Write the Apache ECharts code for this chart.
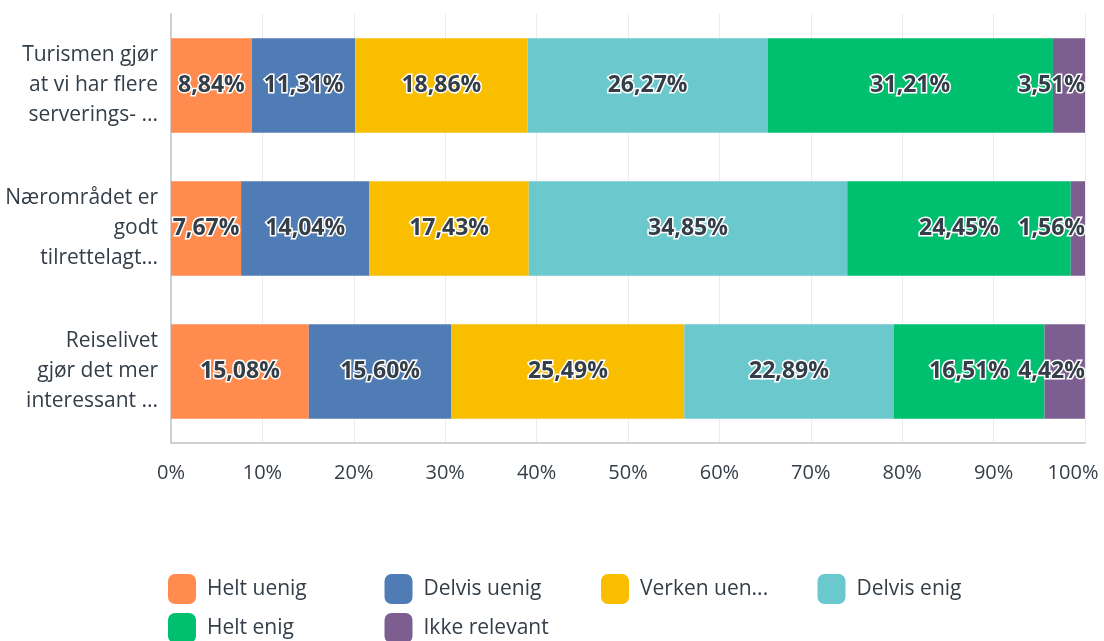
<!DOCTYPE html>
<html>
<head>
<meta charset="utf-8">
<script src="https://cdn.jsdelivr.net/npm/echarts@6/dist/echarts.min.js"></script>
<style>
  html, body { margin: 0; padding: 0; background: #fff; }
  #chart { width: 1104px; height: 641px; }
</style>
</head>
<body>
<div id="chart"></div>
<script>
const categories = [
  'Turismen gjør\nat vi har flere\nserverings- ...',
  'Nærområdet er\ngodt\ntilrettelagt...',
  'Reiselivet\ngjør det mer\ninteressant ...'
]
const seriesNames = ['Helt uenig', 'Delvis uenig', 'Verken uen...', 'Delvis enig', 'Helt enig', 'Ikke relevant']
const heltUenig = [8.84, 7.67, 15.08]
const delvisUenig = [11.31, 14.04, 15.60]
const verken = [18.86, 17.43, 25.49]
const delvisEnig = [26.27, 34.85, 22.89]
const heltEnig = [31.21, 24.45, 16.51]
const ikkeRelevant = [3.51, 1.56, 4.42]
const xTicks = [0, 10, 20, 30, 40, 50, 60, 70, 80, 90, 100]

const colors = ['#FF8B4F', '#507CB6', '#F9BE00', '#6BC8CD', '#00BF6F', '#7D5E90']
const values = [heltUenig, delvisUenig, verken, delvisEnig, heltEnig, ikkeRelevant]
const textColor = '#333e48'
const font = 'Open Sans'

const chart = echarts.init(document.getElementById('chart'))

// one legend per item so the columns line up like the original grid
const legends = seriesNames.map((name, i) => ({
  left: 163 + (i % 4) * 216.5,
  top: 569 + Math.floor(i / 4) * 39,
  itemWidth: 28,
  itemHeight: 30,
  icon: 'roundRect',
  textStyle: { color: textColor, fontSize: 21, fontFamily: font, padding: [0, 0, 0, 6] },
  data: [name],
}))

chart.setOption({
  animation: false,
  color: colors,
  grid: { left: 171, right: 19, top: 14, bottom: 198, outerBoundsMode: 'none' },
  xAxis: {
    type: 'value',
    min: xTicks[0],
    max: xTicks[xTicks.length - 1],
    interval: 10,
    axisLabel: {
      formatter: v => v === 100 ? '{m|100%}' : v + '%',
      color: textColor,
      fontSize: 20,
      fontFamily: font,
      margin: 20,
      rich: { m: { fontSize: 20, fontFamily: font, color: textColor, padding: [0, 24, 0, 0] } },
    },
    axisLine: { show: true, lineStyle: { color: '#d0d0d0', width: 2 } },
    axisTick: { show: false },
    splitLine: { lineStyle: { color: '#ebebeb', width: 1 } },
  },
  yAxis: {
    type: 'category',
    data: categories,
    inverse: true,
    axisLabel: {
      color: textColor,
      fontSize: 21,
      fontFamily: font,
      lineHeight: 30,
      align: 'right',
      margin: 13,
      padding: [4, 0, 0, 0],
    },
    axisLine: { show: true, lineStyle: { color: '#d0d0d0', width: 2 } },
    axisTick: { show: false },
  },
  legend: legends,
  series: seriesNames.map((name, i) => ({
    name,
    type: 'bar',
    stack: 'total',
    barWidth: '66%',
    data: values[i],
    label: {
      show: true,
      position: i === seriesNames.length - 1 ? 'insideRight' : 'inside',
      distance: 0,
      formatter: p => p.value.toFixed(2).replace('.', ',') + '%',
      color: textColor,
      fontSize: 23,
      fontWeight: 'bold',
      fontFamily: font,
      textBorderColor: '#fff',
      textBorderWidth: 3,
    },
  })),
})
</script>
</body>
</html>
